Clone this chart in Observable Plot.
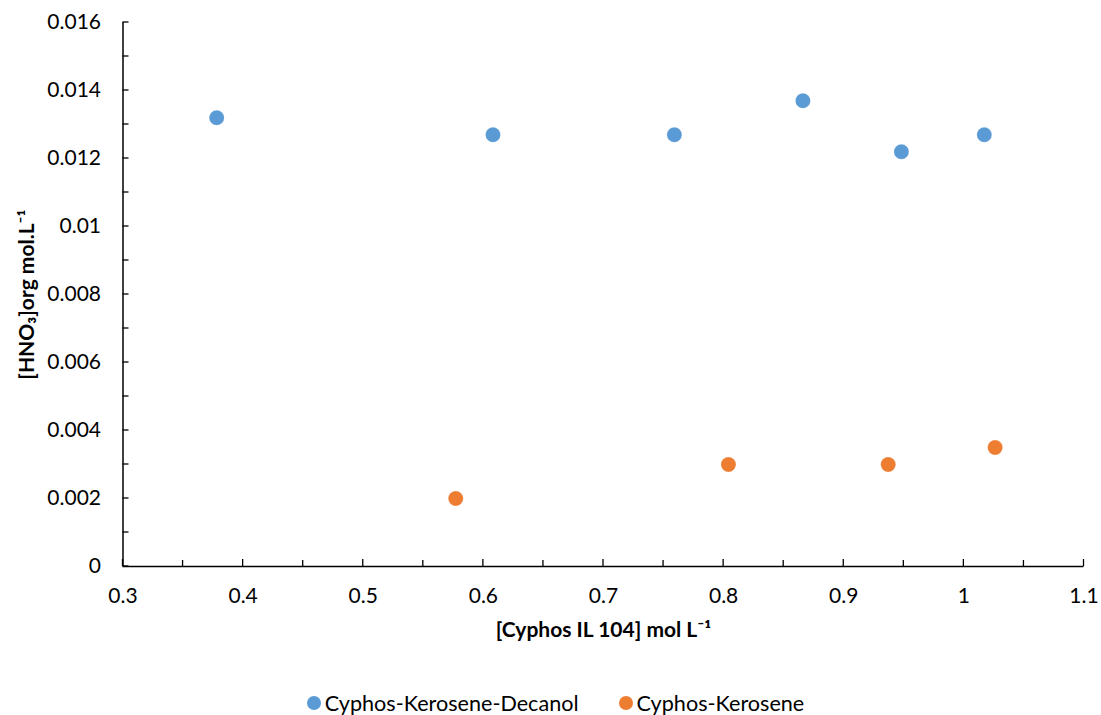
<!DOCTYPE html>
<html>
<head>
<meta charset="utf-8">
<script src="https://cdn.jsdelivr.net/npm/d3@7"></script>
<script src="https://cdn.jsdelivr.net/npm/@observablehq/plot@0.6"></script>
<style>
  html, body { margin: 0; padding: 0; background: #fff; }
  body { width: 1101px; font-family: Lato, "Noto Sans", sans-serif; }
  #legend { display: flex; justify-content: center; align-items: center; gap: 40px; margin-top: 30px; height: 26px; font-size: 21.6px; color: #000; padding-left: 10px; }
  .item { display: flex; align-items: center; gap: 4px; }
  .sw { width: 14px; height: 14px; border-radius: 50%; display: inline-block; }
</style>
</head>
<body>
<div id="chart"></div>
<div id="legend"></div>
<script>
const seriesNames = ["Cyphos-Kerosene-Decanol", "Cyphos-Kerosene"];
const seriesColors = ["#5B9BD5", "#ED7D31"];
const decanolX = [0.378, 0.608, 0.759, 0.866, 0.948, 1.017];
const decanolY = [0.0132, 0.0127, 0.0127, 0.0137, 0.0122, 0.0127];
const keroseneX = [0.577, 0.804, 0.937, 1.026];
const keroseneY = [0.0020, 0.0030, 0.0030, 0.0035];
const xMajorTicks = [0.3, 0.4, 0.5, 0.6, 0.7, 0.8, 0.9, 1.0, 1.1];
const xMinorTicks = [0.35, 0.45, 0.55, 0.65, 0.75, 0.85, 0.95, 1.05];
const yMajorTicks = [0, 0.002, 0.004, 0.006, 0.008, 0.01, 0.012, 0.014, 0.016];
const yMinorTicks = [0.001, 0.003, 0.005, 0.007, 0.009, 0.011, 0.013, 0.015];
const xLabel = "[Cyphos IL 104] mol L⁻¹";
const yLabel = "[HNO₃]org mol.L⁻¹";

const data = [
  ...decanolX.map((x, i) => ({x, y: decanolY[i], s: seriesNames[0]})),
  ...keroseneX.map((x, i) => ({x, y: keroseneY[i], s: seriesNames[1]}))
];

const fmt = d => String(+d.toFixed(3));
const font = "Lato, 'Noto Sans', sans-serif";

const chart = Plot.plot({
  width: 1101,
  height: 660,
  marginLeft: 122.5,
  marginRight: 17.5,
  marginTop: 22,
  marginBottom: 94,
  style: {fontFamily: font, fontSize: "21px", color: "#000", background: "#fff"},
  x: {domain: [0.3, 1.1]},
  y: {domain: [0, 0.016]},
  color: {domain: seriesNames, range: seriesColors},
  marks: [
    Plot.axisX({ticks: xMajorTicks, tickSize: 0, tickPadding: 22, tickFormat: fmt, label: null, fontSize: 21}),
    Plot.axisY({ticks: yMajorTicks, tickSize: 0, tickPadding: 22, tickFormat: fmt, label: null, fontSize: 21}),
    Plot.ruleY([0], {stroke: "#000", strokeWidth: 1.5}),
    Plot.ruleX([0.3], {stroke: "#000", strokeWidth: 1.5}),
    Plot.dot(data, {x: "x", y: "y", fill: "s", r: 7.5, stroke: "#fff", strokeOpacity: 0.3, strokeWidth: 0.5}),
    Plot.text([xLabel], {frameAnchor: "bottom", dy: 70, text: d => d, fontWeight: "bold", fontSize: 21}),
    Plot.text([yLabel], {frameAnchor: "left", dx: -96, rotate: -90, textAnchor: "middle", text: d => d, fontWeight: "bold", fontSize: 21})
  ]
});
document.getElementById("chart").appendChild(chart);

// inward ticks drawn through the chart's own scales
const svg = d3.select(chart);
const xs = chart.scale("x"), ys = chart.scale("y");
const tickG = svg.append("g").attr("stroke", "#000").attr("stroke-width", 1.3);
const x0 = xs.apply(0.3), y0 = ys.apply(0);
yMajorTicks.concat(yMinorTicks).forEach(v => {
  const yy = ys.apply(v);
  tickG.append("line").attr("x1", x0).attr("x2", x0 + 6).attr("y1", yy).attr("y2", yy);
});
xMajorTicks.forEach(v => {
  const xx = xs.apply(v);
  tickG.append("line").attr("x1", xx).attr("x2", xx).attr("y1", y0).attr("y2", y0 - 7);
});
xMinorTicks.forEach(v => {
  const xx = xs.apply(v);
  tickG.append("line").attr("x1", xx).attr("x2", xx).attr("y1", y0).attr("y2", y0 - 6);
});

const legend = document.getElementById("legend");
seriesNames.forEach((n, i) => {
  const it = document.createElement("div");
  it.className = "item";
  it.innerHTML = `<span class="sw" style="background:${seriesColors[i]}"></span><span>${n}</span>`;
  legend.appendChild(it);
});
</script>
</body>
</html>
